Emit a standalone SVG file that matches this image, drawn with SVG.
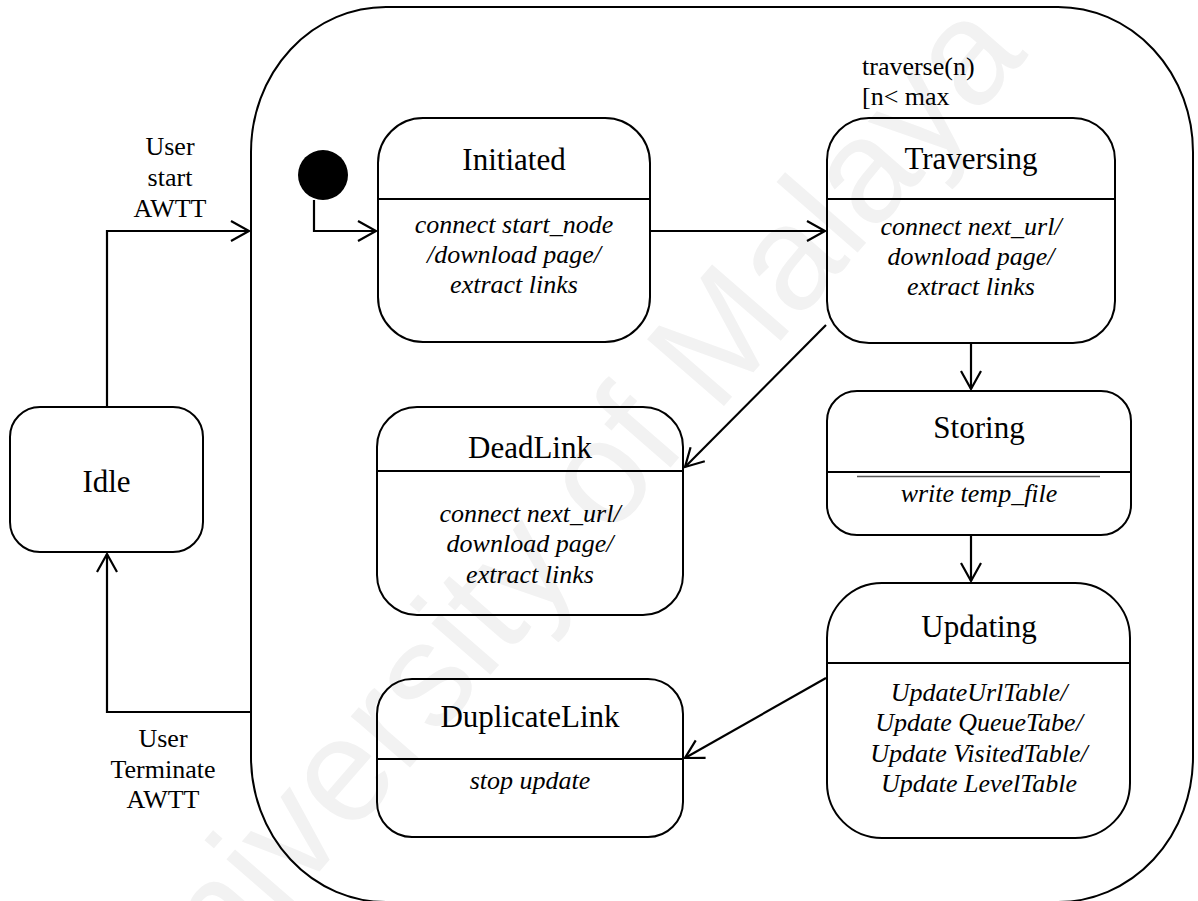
<svg xmlns="http://www.w3.org/2000/svg" width="1198" height="901" viewBox="0 0 1198 901">
<style>
.box{fill:none;stroke:#000;stroke-width:2}
.div{stroke:#000;stroke-width:2}
.ttl{font-size:31px;text-anchor:middle;fill:#000}
.act{font-size:26px;font-style:italic;text-anchor:middle;fill:#000}
.lbl{font-size:26px;fill:#000}
.conn{fill:none;stroke:#000;stroke-width:2.2}
.wm{font-size:148px;fill:#f2f2f2;text-anchor:middle}
</style>
<defs>
<marker id="arr" markerUnits="userSpaceOnUse" markerWidth="24" markerHeight="24" refX="19" refY="11" orient="auto" viewBox="0 0 24 24">
<path d="M1,1 L19,11 L1,21" fill="none" stroke="#000" stroke-width="2.2"/>
</marker>
</defs>
<rect width="1198" height="901" fill="#fff"/>
<text class="wm" font-family="Liberation Sans, Arial, sans-serif" transform="translate(592,558) rotate(-49)">University of Malaya</text>

<g font-family="Liberation Serif, DejaVu Serif, serif">
<g id="composite">
<rect class="box" x="251" y="7" width="942" height="895" rx="135" ry="145"/>
</g>

<g id="initial">
<circle cx="323" cy="175" r="25" fill="#000"/>
</g>

<g id="idle">
<rect class="box" x="10" y="407" width="193" height="145" rx="30"/>
<text class="ttl" x="106.5" y="492">Idle</text>
</g>

<g id="initiated">
<rect class="box" x="378" y="118" width="272" height="224" rx="45"/>
<line class="div" x1="378" y1="199" x2="650" y2="199"/>
<text class="ttl" x="514" y="170">Initiated</text>
<text class="act" x="514" y="233">connect start_node</text>
<text class="act" x="514" y="263">/download page/</text>
<text class="act" x="514" y="293">extract links</text>
</g>

<g id="traversing">
<rect class="box" x="827" y="118" width="288" height="225" rx="42"/>
<line class="div" x1="827" y1="199" x2="1115" y2="199"/>
<text class="ttl" x="971" y="169">Traversing</text>
<text class="act" x="971" y="235">connect next_url/</text>
<text class="act" x="971" y="265">download page/</text>
<text class="act" x="971" y="295">extract links</text>
</g>

<g id="deadlink">
<rect class="box" x="377" y="407" width="306" height="208" rx="40"/>
<line class="div" x1="377" y1="471" x2="683" y2="471"/>
<text class="ttl" x="530" y="458">DeadLink</text>
<text class="act" x="530" y="522">connect next_url/</text>
<text class="act" x="530" y="552">download page/</text>
<text class="act" x="530" y="583">extract links</text>
</g>

<g id="storing">
<rect class="box" x="827" y="391" width="304" height="144" rx="30"/>
<line class="div" x1="827" y1="472" x2="1131" y2="472"/>
<line x1="857" y1="476.5" x2="1100" y2="476.5" stroke="#555" stroke-width="1.3"/>
<text class="ttl" x="979" y="438">Storing</text>
<text class="act" x="979" y="502">write temp_file</text>
</g>

<g id="updating">
<rect class="box" x="827" y="583" width="303" height="255" rx="55"/>
<line class="div" x1="827" y1="663" x2="1130" y2="663"/>
<text class="ttl" x="979" y="637">Updating</text>
<text class="act" x="979" y="701">UpdateUrlTable/</text>
<text class="act" x="979" y="731">Update QueueTabe/</text>
<text class="act" x="979" y="762">Update VisitedTable/</text>
<text class="act" x="979" y="792">Update LevelTable</text>
</g>

<g id="duplicatelink">
<rect class="box" x="377" y="679" width="306" height="158" rx="35"/>
<line class="div" x1="377" y1="759" x2="683" y2="759"/>
<text class="ttl" x="530" y="727">DuplicateLink</text>
<text class="act" x="530" y="789">stop update</text>
</g>

<g id="connectors">
<path class="conn" d="M314,200 V231 H376" marker-end="url(#arr)"/>
<path class="conn" d="M107,407 V231 H249" marker-end="url(#arr)"/>
<path class="conn" d="M251,712 H107 V554" marker-end="url(#arr)"/>
<path class="conn" d="M650,231 H825" marker-end="url(#arr)"/>
<path class="conn" d="M826,325 L685,467" marker-end="url(#arr)"/>
<path class="conn" d="M971,343 V389" marker-end="url(#arr)"/>
<path class="conn" d="M971,535 V581" marker-end="url(#arr)"/>
<path class="conn" d="M826,678 L685,758" marker-end="url(#arr)"/>
</g>

<g id="labels">
<text class="lbl" x="170" y="155" text-anchor="middle">User</text>
<text class="lbl" x="170" y="186" text-anchor="middle">start</text>
<text class="lbl" x="170" y="217" text-anchor="middle">AWTT</text>
<text class="lbl" x="163" y="747" text-anchor="middle">User</text>
<text class="lbl" x="163" y="778" text-anchor="middle">Terminate</text>
<text class="lbl" x="163" y="808" text-anchor="middle">AWTT</text>
<text class="lbl" x="862" y="75">traverse(n)</text>
<text class="lbl" x="862" y="105">[n&lt; max</text>
</g>
</g>
</svg>
